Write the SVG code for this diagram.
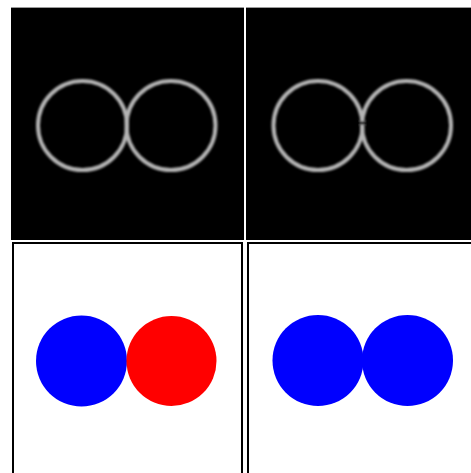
<svg xmlns="http://www.w3.org/2000/svg" width="471" height="473" viewBox="0 0 471 473">
<defs>
<filter id="blur" x="-20%" y="-20%" width="140%" height="140%"><feGaussianBlur stdDeviation="0.9"/></filter>
<style>
.dark{fill:#000}
.topline{stroke:#9a9a9a;stroke-width:1}
.ring{fill:none;stroke:#b4b4b4;stroke-width:4}
.light{fill:#fff;stroke:#000;stroke-width:2}
</style>
</defs>
<rect x="0" y="0" width="471" height="473" fill="#fff"/>
<g id="panel-top-left">
<rect class="dark" x="11" y="7" width="233" height="233"/>
<line class="topline" x1="11" y1="7.5" x2="244" y2="7.5"/>
<g filter="url(#blur)">
<circle class="ring" cx="82.5" cy="125.5" r="44.5"/>
<circle class="ring" cx="171" cy="125.5" r="44.5"/>
</g>
</g>
<g id="panel-top-right">
<rect class="dark" x="246" y="7" width="225" height="233"/>
<line class="topline" x1="246" y1="7.5" x2="471" y2="7.5"/>
<g filter="url(#blur)">
<circle class="ring" cx="318" cy="125.5" r="44.5"/>
<circle class="ring" cx="406.5" cy="125.5" r="44.5"/>
<rect x="356" y="121.5" width="12" height="3" fill="#000"/>
</g>
</g>
<g id="panel-bottom-left">
<rect class="light" x="13" y="243" width="229" height="232"/>
<circle cx="81.5" cy="361" r="45.5" fill="#0000ff"/>
<circle cx="171.5" cy="361" r="45" fill="#ff0000"/>
</g>
<g id="panel-bottom-right">
<rect class="light" x="248" y="243" width="225" height="232"/>
<circle cx="318" cy="360.5" r="45.5" fill="#0000ff"/>
<circle cx="407.5" cy="360.5" r="45.5" fill="#0000ff"/>
</g>
</svg>
